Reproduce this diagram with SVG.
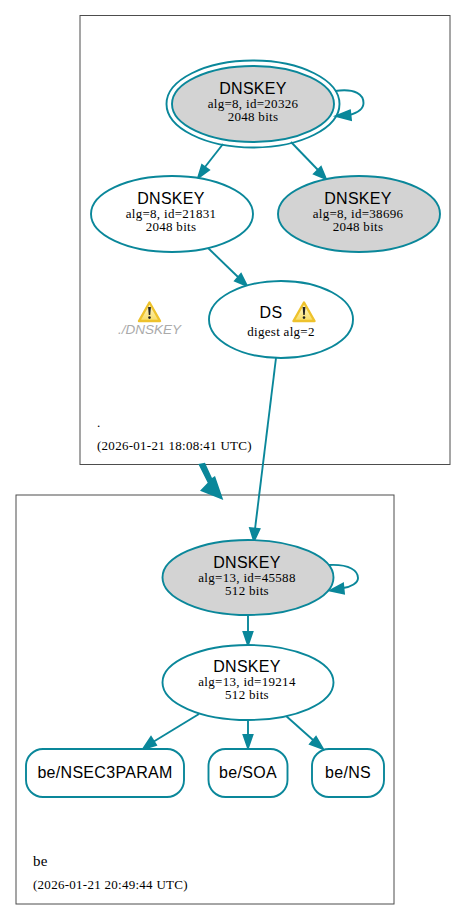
<svg xmlns="http://www.w3.org/2000/svg" width="467" height="920" viewBox="0 0 467 920">
<style>
.z{fill:none;stroke:#4d4d4d;stroke-width:1}
.n{fill:#fff;stroke:#0a879a;stroke-width:1.9}
.r{fill:#fff;stroke:#0a879a;stroke-width:1.9}
.g{fill:#d3d3d3;stroke:#0a879a;stroke-width:1.9}
.o{fill:none;stroke:#0a879a;stroke-width:1.9}
.e{fill:none;stroke:#0a879a;stroke-width:1.9}
.h{fill:#0a879a;stroke:#0a879a;stroke-width:1.9}
.t{font-family:"Liberation Sans",Arial,sans-serif;font-size:16px;letter-spacing:.3px;text-anchor:middle;fill:#000}
.s{font-family:"Liberation Serif","Times New Roman",serif;font-size:13px;letter-spacing:.3px;text-anchor:middle;fill:#000}
.l{font-family:"Liberation Serif","Times New Roman",serif;font-size:13px;letter-spacing:.27px;fill:#000}
.w{font-family:"Liberation Sans",Arial,sans-serif;font-size:13.500px;font-style:italic;text-anchor:middle;fill:#aaa}
</style>
<defs>
<linearGradient id="wg" x1="0" y1="0" x2="0" y2="1"><stop offset="0" stop-color="#fffbe0"/><stop offset="1" stop-color="#f8dc60"/></linearGradient>
<g id="warn">
<path d="M0,-9.500 L10.500,9 L-10.500,9 Z" fill="url(#wg)" stroke="#eec22c" stroke-width="2.400" stroke-linejoin="round"/>
<path d="M-1.400,-5 L1.400,-5 L0.700,3 L-0.700,3 Z" fill="#222"/>
<circle cx="0" cy="5.600" r="1.300" fill="#222"/>
</g>
</defs>
<rect width="467" height="920" fill="#fff"/>
<g id="zones">
<rect class="z" x="80" y="15.500" width="370" height="449"/>
<rect class="z" x="16" y="495" width="378" height="409"/>
<text class="l" x="97" y="427">.</text>
<text class="l" x="97" y="450">(2026-01-21 18:08:41 UTC)</text>
<text class="l" x="33" y="866" style="font-size:15px">be</text>
<text class="l" x="33" y="889">(2026-01-21 20:49:44 UTC)</text>
</g>
<g id="connectors">
<path class="e" d="M335,91 C356,88 363.500,95 363.500,103 C363.500,109 357,113 349,115"/>
<path class="h" d="M350,110.500 L336,116 L351,120 Z"/>
<path class="e" d="M223,144 L205,167"/>
<path class="h" d="M209,170 L198,178 L202,165 Z"/>
<path class="e" d="M291,142 L318,170"/>
<path class="h" d="M321,167 L326,179 L314,174 Z"/>
<path class="e" d="M207,247 L238,277"/>
<path class="h" d="M241,274 L247,286 L235,281 Z"/>
<path class="e" d="M276,358 L255,529"/>
<path class="h" d="M259.500,529 L254,541 L250,528 Z"/>
<path d="M198.300,464 L205,462.700 L212,478 L215,476 L223.300,500 L200,490.700 L207.700,482.700 Z" fill="#0a879a"/>
<path class="e" d="M329,565 C350,564 358,571 358,578 C358,583 351,587 343,588"/>
<path class="h" d="M343,583.500 L330,590.500 L344,593.500 Z"/>
<path class="e" d="M248,615 L248,633"/>
<path class="h" d="M252.500,632 L248,645 L243.500,632 Z"/>
<path class="e" d="M199,714 L153,742"/>
<path class="h" d="M156,745 L143,749 L151,737 Z"/>
<path class="e" d="M248,720 L248,736"/>
<path class="h" d="M252.500,735 L248,748 L243.500,735 Z"/>
<path class="e" d="M285,715 L313,740"/>
<path class="h" d="M316,737 L323,749 L310,744 Z"/>
</g>
<g id="n1">
<ellipse class="o" cx="253" cy="104" rx="86.500" ry="43.500"/>
<ellipse class="g" cx="253" cy="104" rx="81" ry="38"/>
<text class="t" x="253" y="93.500">DNSKEY</text>
<text class="s" x="253" y="107.500">alg=8, id=20326</text>
<text class="s" x="253" y="120.500">2048 bits</text>
</g>
<g id="n2">
<ellipse class="n" cx="172" cy="214" rx="81" ry="38"/>
<text class="t" x="171" y="203.500">DNSKEY</text>
<text class="s" x="171" y="218">alg=8, id=21831</text>
<text class="s" x="171" y="231">2048 bits</text>
</g>
<g id="n3">
<ellipse class="g" cx="359" cy="214" rx="81" ry="38"/>
<text class="t" x="358" y="203.500">DNSKEY</text>
<text class="s" x="358" y="218">alg=8, id=38696</text>
<text class="s" x="358" y="231">2048 bits</text>
</g>
<g id="n4">
<ellipse class="n" cx="281" cy="319.500" rx="72" ry="38.500"/>
<text class="t" x="271" y="318">DS</text>
<use href="#warn" x="304" y="312"/>
<text class="s" x="281" y="336">digest alg=2</text>
</g>
<g id="n5">
<use href="#warn" x="149.500" y="312"/>
<text class="w" x="149.500" y="334">./DNSKEY</text>
</g>
<g id="n6">
<ellipse class="g" cx="248" cy="577.500" rx="85.500" ry="37.500"/>
<text class="t" x="247" y="568">DNSKEY</text>
<text class="s" x="247" y="581.500">alg=13, id=45588</text>
<text class="s" x="247" y="594.500">512 bits</text>
</g>
<g id="n7">
<ellipse class="n" cx="248" cy="682.500" rx="85.500" ry="37.500"/>
<text class="t" x="247" y="672">DNSKEY</text>
<text class="s" x="247" y="686">alg=13, id=19214</text>
<text class="s" x="247" y="699">512 bits</text>
</g>
<g id="n8">
<rect class="r" x="26" y="749" width="158" height="48" rx="17"/>
<text class="t" x="105" y="778">be/NSEC3PARAM</text>
</g>
<g id="n9">
<rect class="r" x="208.500" y="749" width="79" height="48" rx="17"/>
<text class="t" x="248" y="778">be/SOA</text>
</g>
<g id="n10">
<rect class="r" x="312" y="749" width="72" height="48" rx="17"/>
<text class="t" x="348" y="778">be/NS</text>
</g>
</svg>
